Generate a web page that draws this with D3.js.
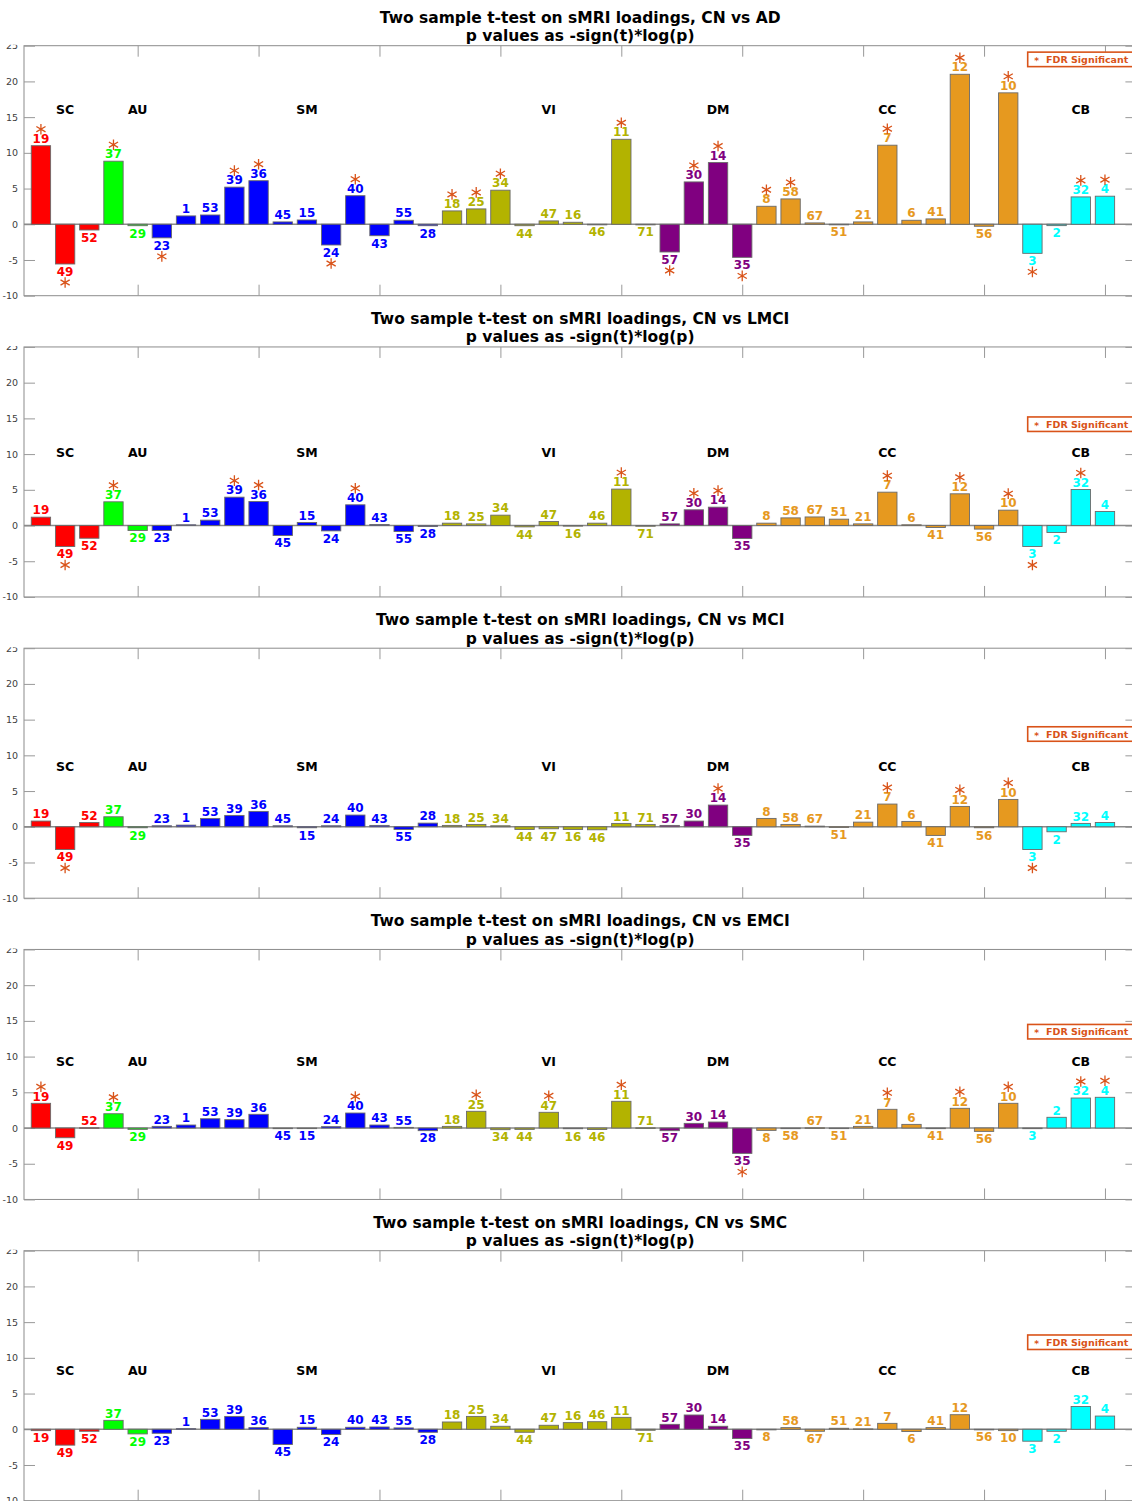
<!DOCTYPE html>
<html>
<head>
<meta charset="utf-8">
<script src="https://cdn.jsdelivr.net/npm/d3@7"></script>
<style>
    body {margin: 0; background: #fff;}
    text {font-family: "DejaVu Sans", sans-serif;}
</style>
</head>
<body>
<div id="keshihua"></div>
<script>
// component ids, in plotted order
var ids = [19, 49, 52, 37, 29, 23, 1, 53, 39, 36, 45, 15, 24, 40, 43, 55, 28, 18, 25, 34, 44, 47, 16, 46, 11, 71,
    57, 30, 14, 35, 8, 58, 67, 51, 21, 7, 6, 41, 12, 56, 10, 3, 2, 32, 4];
var groups = ['SC', 'AU', 'SM', 'VI', 'DM', 'CC', 'CB'];
var groupSizes = [3, 2, 12, 9, 4, 11, 4];
var groupColors = ['#ff0000', '#00ff00', '#0000ff', '#b3b300', '#800080', '#e6991f', '#00ffff'];
var yTicks = [-10, -5, 0, 5, 10, 15, 20, 25];
var xTicks = [5, 10, 15, 20, 25, 30, 35, 40, 45];

var titles = ['CN vs AD', 'CN vs LMCI', 'CN vs MCI', 'CN vs EMCI', 'CN vs SMC'];

var valsAD = [11.0, -5.56, -0.8, 8.83, -0.2, -1.9, 1.17, 1.3, 5.2, 6.1, 0.33, 0.6, -2.9, 4.0, -1.6, 0.56, -0.2,
    1.87, 2.15, 4.77, -0.2, 0.47, 0.28, -0.03, 11.9, -0.05, -3.88, 5.93, 8.64, -4.63,
    2.52, 3.55, 0.19, -0.05, 0.33, 11.07, 0.56, 0.75, 21.0, -0.28, 18.4, -4.07, -0.19, 3.83, 3.93];
var valsLMCI = [1.17, -2.94, -1.78, 3.32, -0.7, -0.7, 0.1, 0.75, 3.97, 3.36, -1.4, 0.42, -0.75, 2.9, 0.14, -0.84, -0.14,
    0.33, 0.23, 1.45, -0.19, 0.56, -0.03, 0.33, 5.1, -0.1, 0.23, 2.2, 2.57, -1.82,
    0.33, 1.07, 1.2, 0.89, 0.23, 4.67, 0.1, -0.28, 4.44, -0.5, 2.15, -2.94, -0.98, 5.05, 1.96];
var valsMCI = [0.8, -3.18, 0.6, 1.4, -0.14, 0.14, 0.23, 1.17, 1.59, 2.15, 0.14, -0.14, 0.14, 1.64, 0.19, -0.37, 0.51,
    0.19, 0.33, 0.14, -0.37, -0.28, -0.37, -0.42, 0.47, 0.33, 0.19, 0.8, 3.04, -1.21,
    1.17, 0.33, 0.09, -0.09, 0.65, 3.18, 0.75, -1.21, 2.85, -0.14, 3.83, -3.18, -0.7, 0.47, 0.6];
var valsEMCI = [3.46, -1.36, 0.04, 2.0, -0.19, 0.23, 0.42, 1.3, 1.17, 1.92, -0.09, -0.03, 0.19, 2.1, 0.42, 0.09, -0.37,
    0.23, 2.34, -0.23, -0.19, 2.2, -0.1, -0.2, 3.74, 0.03, -0.37, 0.65, 0.84, -3.55,
    -0.33, -0.09, 0.03, -0.05, 0.23, 2.62, 0.51, -0.09, 2.76, -0.47, 3.46, -0.09, 1.5, 4.2, 4.3];
var valsSMC = [-0.19, -2.22, -0.28, 1.25, -0.65, -0.56, 0.09, 1.39, 1.8, 0.23, -2.13, 0.28, -0.74, 0.28, 0.32, 0.19, -0.42,
    1.02, 1.8, 0.42, -0.42, 0.56, 0.93, 1.06, 1.67, -0.14, 0.69, 2.0, 0.42, -1.3,
    -0.05, 0.23, -0.28, 0.14, 0.05, 0.83, -0.32, 0.23, 2.04, -0.02, -0.19, -1.67, -0.28, 3.19, 1.85];

// FDR significant components
var sigAD = [19, 49, 37, 23, 39, 36, 24, 40, 18, 25, 34, 11, 57, 30, 14, 35, 8, 58, 7, 12, 10, 3, 32, 4];
var sigLMCI = [49, 37, 39, 36, 40, 11, 30, 14, 7, 12, 10, 3, 32];
var sigMCI = [49, 14, 7, 12, 10, 3];
var sigEMCI = [19, 37, 40, 25, 47, 11, 35, 7, 12, 10, 32, 4];
var sigSMC = [];

var allVals = [valsAD, valsLMCI, valsMCI, valsEMCI, valsSMC];
var allSig = [sigAD, sigLMCI, sigMCI, sigEMCI, sigSMC];

// where group names and legend sit in each panel (data units)
var groupLabelY = [16.1, 10.2, 8.4, 9.3, 8.3];
var legendTop = [24.1, 15.2, 14.0, 14.5, 13.2];

var W = 1132, H = 1501;
var starColor = '#d95319';

// group index of every bar
var groupOf = [];
groupSizes.forEach(function (n, g) {
    for (var i = 0; i < n; i++) groupOf.push(g);
});

var svg = d3.select('#keshihua').append('svg')
    .attr('width', W)
    .attr('height', H)
;

for (var k = 0; k < 5; k++) {
    render_panel(k, 45.7 + k * 301.25, 250);
}

function star(g, cx, cy, r) {
    var d = 'M' + cx + ',' + (cy - r) + 'L' + cx + ',' + (cy + r);
    var dx = r * Math.cos(Math.PI / 6), dy = r * Math.sin(Math.PI / 6);
    d += 'M' + (cx - dx) + ',' + (cy - dy) + 'L' + (cx + dx) + ',' + (cy + dy);
    d += 'M' + (cx - dx) + ',' + (cy + dy) + 'L' + (cx + dx) + ',' + (cy - dy);
    g.append('path')
        .attr('d', d)
        .attr('stroke', starColor)
        .attr('stroke-width', 1.3)
        .attr('fill', 'none');
}

function render_panel(k, top, h) {
    var vals = allVals[k];
    var sig = allSig[k];
    var data = ids.map(function (id, i) {
        return {id: id, pos: i + 1, value: vals[i], group: groupOf[i], sig: sig.indexOf(id) >= 0};
    });

    var xscale = d3.scaleLinear().domain([0.3, 46.3]).range([24, 1136.4]);
    var yscale = d3.scaleLinear().domain([-10, 25]).range([top + h, top]);
    var x0 = xscale.range()[0], x1 = xscale.range()[1];

    var g = svg.append('g');

    // title
    g.append('text')
        .text('Two sample t-test on sMRI loadings, ' + titles[k])
        .attr('x', (x0 + x1) / 2)
        .attr('y', top - 23.2)
        .attr('text-anchor', 'middle')
        .attr('font-size', '15.5px')
        .attr('font-weight', 'bold')
        .attr('fill', '#000');
    g.append('text')
        .text('p values as -sign(t)*log(p)')
        .attr('x', (x0 + x1) / 2)
        .attr('y', top - 4.7)
        .attr('text-anchor', 'middle')
        .attr('font-size', '15.5px')
        .attr('font-weight', 'bold')
        .attr('fill', '#000');

    // axes box
    g.append('rect')
        .attr('x', x0)
        .attr('y', top)
        .attr('width', x1 - x0)
        .attr('height', h)
        .attr('fill', 'none')
        .attr('stroke', '#8c8c8c')
        .attr('stroke-width', 1);

    // clip so the top tick label is cut like in the original (local coords of the axis group)
    var clipId = 'clip' + k;
    svg.append('clipPath').attr('id', clipId)
        .append('rect')
        .attr('x', -40).attr('y', top - 1)
        .attr('width', 80).attr('height', h + 30);

    var yAxis = d3.axisLeft(yscale)
        .tickValues(yTicks)
        .tickSize(-11)
        .tickPadding(6)
        .tickFormat(function (d) { return String(d); });
    var ya = g.append('g')
        .attr('transform', 'translate(' + x0 + ',0)')
        .attr('clip-path', 'url(#' + clipId + ')')
        .call(yAxis);
    ya.select('.domain').remove();
    ya.selectAll('line').attr('stroke', '#999');
    ya.selectAll('text')
        .attr('fill', '#404040')
        .attr('font-size', '9.5px')
        .attr('font-family', '"DejaVu Sans", sans-serif');

    var yr = g.append('g')
        .attr('transform', 'translate(' + x1 + ',0)')
        .call(d3.axisRight(yscale).tickValues(yTicks).tickSize(-11).tickFormat(''));
    yr.select('.domain').remove();
    yr.selectAll('line').attr('stroke', '#999');

    var xt = g.append('g')
        .attr('transform', 'translate(0,' + top + ')')
        .call(d3.axisBottom(xscale).tickValues(xTicks).tickSize(11).tickFormat(''));
    xt.select('.domain').remove();
    xt.selectAll('line').attr('stroke', '#999');
    var xb = g.append('g')
        .attr('transform', 'translate(0,' + (top + h) + ')')
        .call(d3.axisTop(xscale).tickValues(xTicks).tickSize(11).tickFormat(''));
    xb.select('.domain').remove();
    xb.selectAll('line').attr('stroke', '#999');

    // baseline
    g.append('line')
        .attr('x1', x0).attr('x2', x1)
        .attr('y1', yscale(0)).attr('y2', yscale(0))
        .attr('stroke', '#8a8a8a')
        .attr('stroke-width', 1.3);

    // bars
    var bw = xscale(0.8) - xscale(0);
    g.append('g').selectAll('rect')
        .data(data)
        .enter()
        .append('rect')
        .attr('x', function (d) { return xscale(d.pos) - bw / 2; })
        .attr('y', function (d) { return Math.min(yscale(d.value), yscale(0)); })
        .attr('width', bw)
        .attr('height', function (d) { return Math.max(Math.abs(yscale(d.value) - yscale(0)), 0.6); })
        .attr('fill', function (d) { return groupColors[d.group]; })
        .attr('stroke', '#6a6a6a')
        .attr('stroke-width', 0.9);

    // component numbers
    g.append('g').selectAll('text')
        .data(data)
        .enter()
        .append('text')
        .text(function (d) { return d.id; })
        .attr('x', function (d) { return xscale(d.pos); })
        .attr('y', function (d) {
            return d.value >= 0 ? yscale(d.value) - 2.8 : yscale(d.value) + 11.8;
        })
        .attr('text-anchor', 'middle')
        .attr('font-size', '12px')
        .attr('font-weight', 'bold')
        .attr('fill', function (d) { return groupColors[d.group]; });

    // significance stars
    var sg = g.append('g');
    data.filter(function (d) { return d.sig; }).forEach(function (d) {
        var cy = d.value >= 0 ? yscale(d.value) - 16.5 : yscale(d.value) + 18.5;
        star(sg, xscale(d.pos), cy, 5.3);
    });

    // network names
    var start = 1;
    groups.forEach(function (name, gi) {
        g.append('text')
            .text(name)
            .attr('x', xscale(start + Math.floor(groupSizes[gi] / 2)))
            .attr('y', yscale(groupLabelY[k]) + 4.6)
            .attr('text-anchor', 'middle')
            .attr('font-size', '12.5px')
            .attr('font-weight', 'bold')
            .attr('fill', '#000');
        start += groupSizes[gi];
    });

    // legend
    var ly = yscale(legendTop[k]);
    g.append('rect')
        .attr('x', 1027.7)
        .attr('y', ly)
        .attr('width', 130)
        .attr('height', 14.5)
        .attr('fill', '#fff')
        .attr('stroke', starColor)
        .attr('stroke-width', 1.6);
    g.append('text')
        .text('*')
        .attr('x', 1036.7)
        .attr('y', ly + 12)
        .attr('text-anchor', 'middle')
        .attr('font-size', '9px')
        .attr('font-weight', 'bold')
        .attr('fill', starColor);
    g.append('text')
        .text('FDR Significant')
        .attr('x', 1046)
        .attr('y', ly + 11)
        .attr('font-size', '9.5px')
        .attr('font-weight', 'bold')
        .attr('fill', starColor);
}
</script>
</body>
</html>
